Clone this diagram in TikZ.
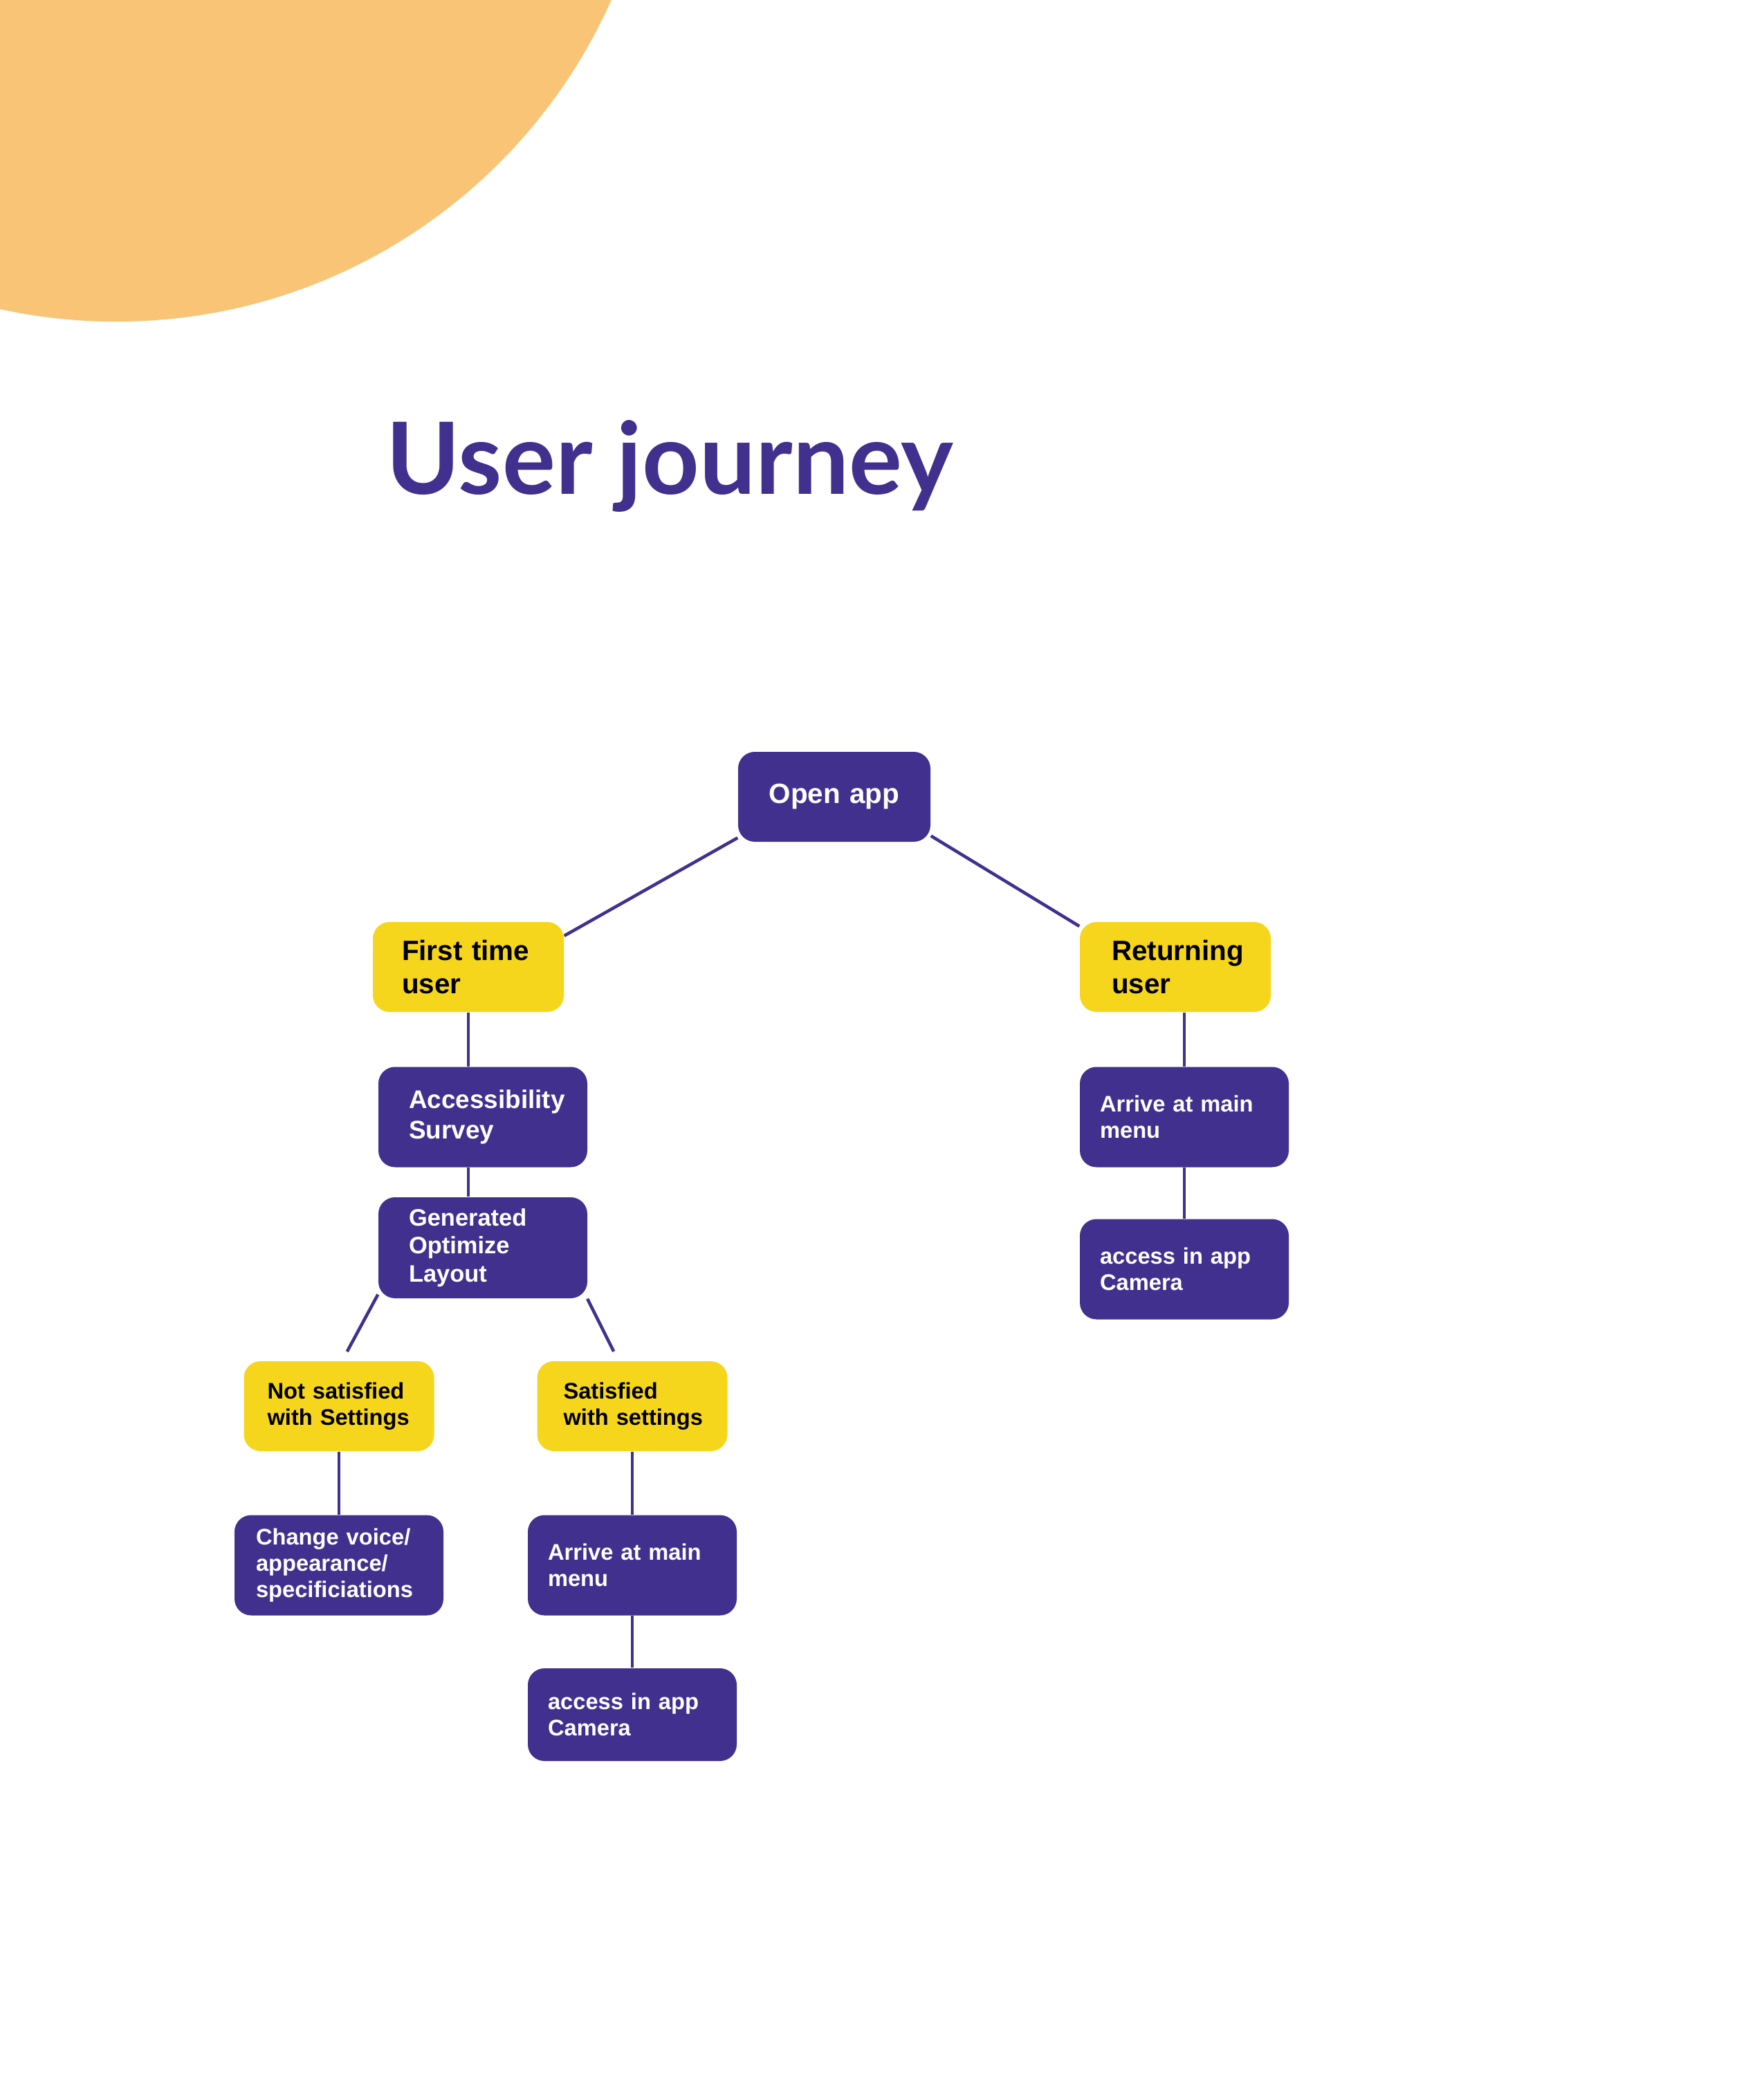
\documentclass[tikz,border=0pt]{standalone}
\usepackage{fontspec}
\setsansfont{Liberation Sans}
\newfontfamily\titlefont{Lato}
\usetikzlibrary{backgrounds}
\definecolor{cPurple}{HTML}{42308E}
\definecolor{cYellow}{HTML}{F6D61D}
\definecolor{cPeach}{HTML}{F9C476}
\tikzset{
  card/.style = {rectangle, rounded corners=0.24cm, align=left, inner ysep=0pt,
                 font=\sffamily\bfseries\fontsize{9.3}{10.8}\selectfont},
  ybox/.style = {card, fill=cYellow, text=black, minimum height=1.30cm,
                 text width=1.92cm, inner xsep=0.42cm},
  pbox/.style = {card, fill=cPurple, text=white, minimum height=1.45cm,
                 text width=2.44cm, inner xsep=0.29cm},
  big/.style  = {font=\sffamily\bfseries\fontsize{11.5}{13.6}\selectfont},
  fl/.style   = {draw=cPurple, line width=1.3pt},
}

\begin{document}
\begin{tikzpicture}
  \useasboundingbox (0,0) rectangle (25.5,-30);
  \begin{scope}
    \clip (0,0) rectangle (25.5,-30);
    \fill[cPeach] (1.68,3.18) circle (7.83);
  \end{scope}

  \node[font=\titlefont\bfseries\fontsize{41}{47}\selectfont, text=cPurple,
        anchor=base west, inner sep=0pt] (title) at (5.58,-7.14) {User journey};

  \node[pbox, big, align=center, minimum height=1.30cm, text width=2.38cm, inner xsep=0.2cm] (open) at (12.06,-11.52) {Open app};

  \node[ybox, big] (ftu) at (6.77,-13.98) {First time\\user};
  \node[ybox, big, inner xsep=0.46cm, text width=1.84cm] (ret) at (16.99,-13.98) {Returning\\user};

  \node[pbox, font=\sffamily\bfseries\fontsize{10.5}{12.5}\selectfont,
        inner xsep=0.44cm, text width=2.14cm] (acc) at (6.98,-16.15) {Accessibility\\Survey};
  \node[pbox, font=\sffamily\bfseries\fontsize{9.8}{11.6}\selectfont,
        inner xsep=0.44cm, text width=2.14cm, minimum height=1.46cm] (gol) at (6.98,-18.04) {Generated\\Optimize\\Layout};

  \node[ybox, inner xsep=0.34cm, text width=2.07cm] (nsw) at (4.90,-20.33) {Not satisfied\\with Settings};
  \node[ybox, inner xsep=0.38cm, text width=1.99cm] (sat) at (9.14,-20.33) {Satisfied\\\mbox{with settings}};

  \node[pbox, inner xsep=0.31cm, text width=2.40cm] (chg) at (4.90,-22.63) {Change voice/\\appearance/\\specificiations};
  \node[pbox] (arl) at (9.14,-22.63) {Arrive at main\\menu};
  \node[pbox, minimum height=1.34cm] (cal) at (9.14,-24.79) {access in app\\Camera};

  \node[pbox] (arr) at (17.12,-16.15) {Arrive at main\\menu};
  \node[pbox] (car) at (17.12,-18.35) {access in app\\Camera};

  \begin{scope}[on background layer]
    \draw[fl] (open.203) -- (ftu.18);
    \draw[fl] (open.338) -- (ret.157);
    \draw[fl] (ftu.south) -- (ftu.south |- acc.north);
    \draw[fl] (acc.south -| ftu.south) -- (gol.north -| ftu.south);
    \draw[fl, shorten >=0.15cm] (gol.204) -- (nsw.86);
    \draw[fl, shorten >=0.15cm] (gol.334) -- (sat.107);
    \draw[fl] (nsw.south) -- (chg.north);
    \draw[fl] (sat.south) -- (arl.north);
    \draw[fl] (arl.south) -- (cal.north);
    \draw[fl] (ret.south -| arr.north) -- (arr.north);
    \draw[fl] (arr.south) -- (car.north);
  \end{scope}
\end{tikzpicture}
\end{document}
